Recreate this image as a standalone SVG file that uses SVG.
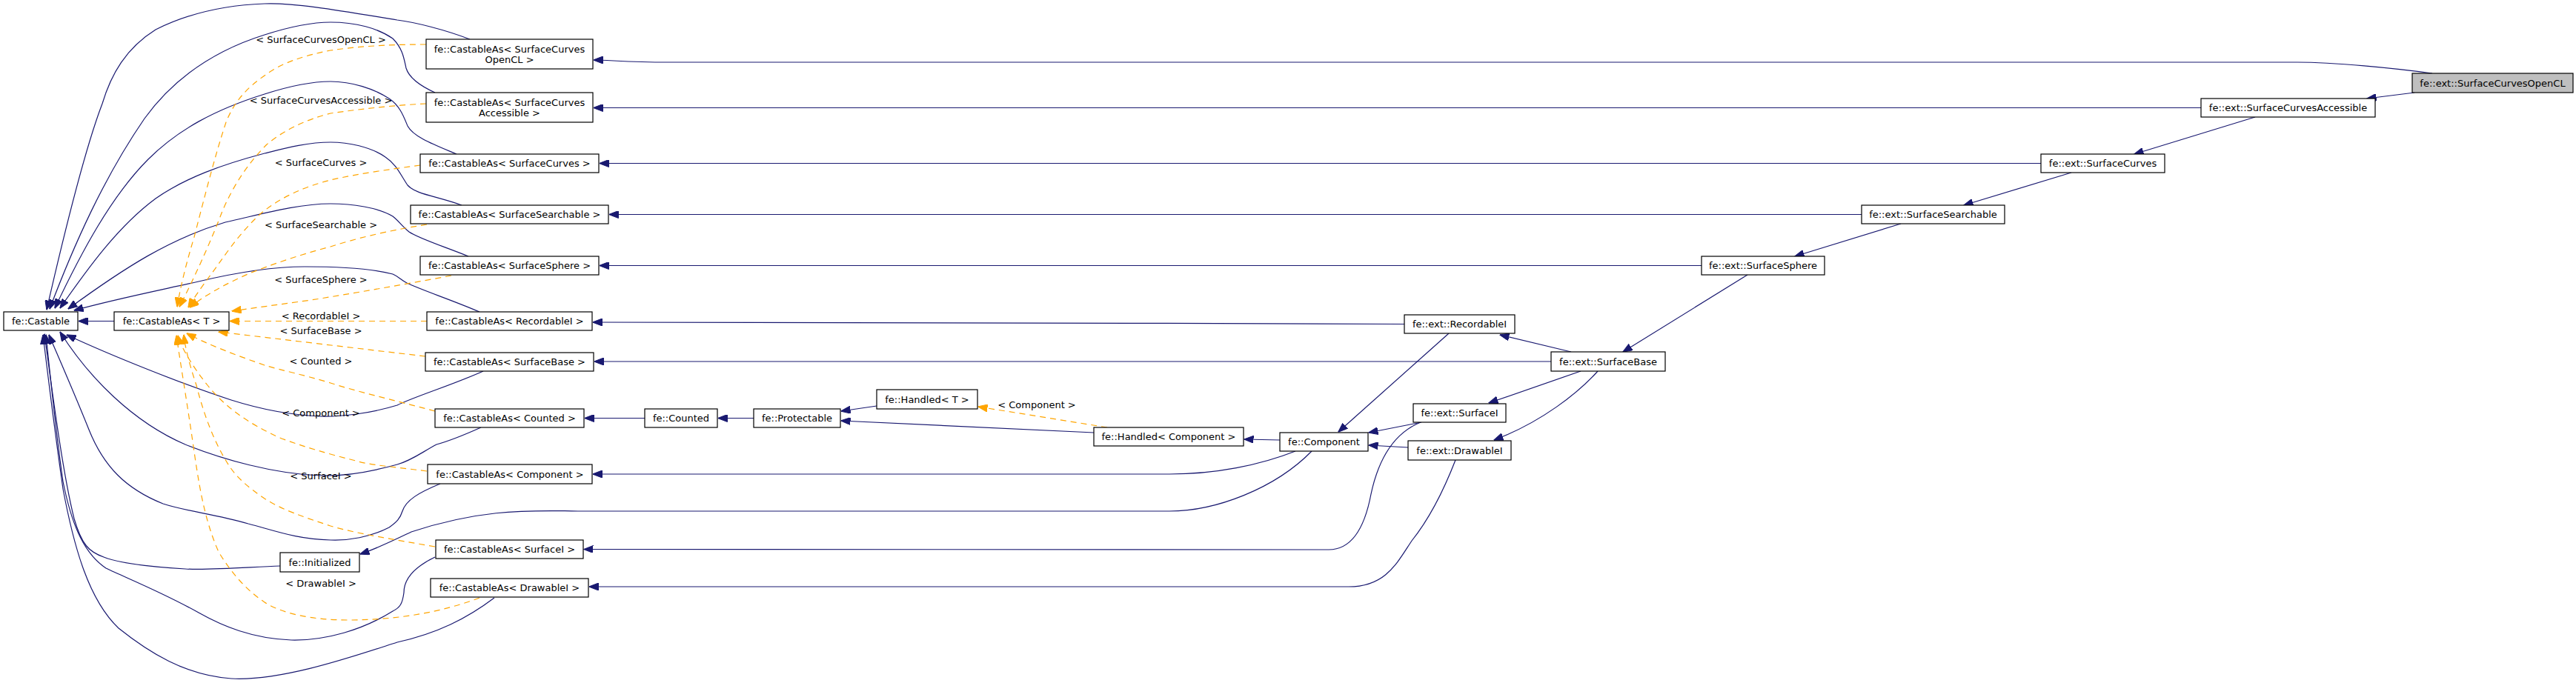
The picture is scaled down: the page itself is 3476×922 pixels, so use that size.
<svg xmlns="http://www.w3.org/2000/svg" width="3476" height="922" viewBox="0 0 3476 922">
<style>
.node rect{fill:#fff;stroke:#000;stroke-width:1.2}
.node.hl rect{fill:#bfbfbf}
text{font-family:"DejaVu Sans","Liberation Sans",sans-serif;font-size:13px;text-anchor:middle;fill:#000}
.e{fill:none;stroke:#191970;stroke-width:1.2;marker-end:url(#ab)}
.t{fill:none;stroke:#ffa500;stroke-width:1.2;stroke-dasharray:8,6;marker-end:url(#ao)}
</style>
<defs>
<marker id="ab" viewBox="0 0 13 10" refX="12.5" refY="5" markerWidth="13" markerHeight="10" markerUnits="userSpaceOnUse" orient="auto"><path d="M0,0 L13,5 L0,10 z" fill="#191970" stroke="#191970" stroke-width="1"/></marker>
<marker id="ao" viewBox="0 0 13 10" refX="12.5" refY="5" markerWidth="13" markerHeight="10" markerUnits="userSpaceOnUse" orient="auto"><path d="M0,0 L13,5 L0,10 z" fill="#ffa500" stroke="#ffa500" stroke-width="1"/></marker>
</defs>
<rect width="3476" height="922" fill="#fff"/>
<g id="edges">
<path class="e" d="M3282,99 C3230,92 3150,84 3100,84 L900,84 C850,84 820,81 801,81"/>
<path class="e" d="M3258,125 L3194,133"/>
<path class="e" d="M2970,145.5 L801,145.5"/>
<path class="e" d="M3043,158 L2880,208"/>
<path class="e" d="M2754,220.5 L809,220.5"/>
<path class="e" d="M2795,233 L2650,277"/>
<path class="e" d="M2512,289.5 L822,289.5"/>
<path class="e" d="M2565,302 L2422,346"/>
<path class="e" d="M2296,358.5 L809,358.5"/>
<path class="e" d="M2358,371 L2190,475"/>
<path class="e" d="M1895,437.5 C1500,436 1000,435 800,435"/>
<path class="e" d="M2120,475 L2024,452"/>
<path class="e" d="M2093,488 L802,488"/>
<path class="e" d="M2133,501 L2009,544"/>
<path class="e" d="M2156,501 C2130,530 2080,570 2016,594"/>
<path class="e" d="M1955,450 L1806,583"/>
<path class="e" d="M1918,570 L1847,584"/>
<path class="e" d="M1900,604 L1847,601"/>
<path class="e" d="M1727,594 L1679,593"/>
<path class="e" d="M1748,609 C1700,628 1640,640 1578,640 L800,640"/>
<path class="e" d="M1770,609 C1720,660 1640,690 1578,690 L780,690 C700,688 640,690 555,718 C530,730 510,740 486,748"/>
<path class="e" d="M1917,570 C1880,585 1860,620 1850,667 C1840,720 1820,742 1793,742 L788,741.5"/>
<path class="e" d="M1964,621 C1945,670 1925,705 1905,730 C1885,760 1870,792 1820,792 L795,792"/>
<path class="e" d="M1476,584 L1135,568"/>
<path class="t" d="M1494,577 L1320,549"/>
<path class="e" d="M1183,548 L1135,555"/>
<path class="e" d="M1017,564.5 L969,564.5"/>
<path class="e" d="M870,564.5 L789,564.5"/>
<path class="e" d="M154,433.5 L106,433.5"/>
<path class="e" d="M634,53 C600,40 560,30 536,27 C480,18 400,3 357,5 C300,7 250,20 210,40 C170,65 150,100 138,140 C115,200 90,300 63,418"/>
<path class="e" d="M587,125 C565,115 552,105 548,92 C545,78 543,65 530,52 C510,38 480,30 446,30 C415,30 385,38 357,47 C290,68 235,105 195,160 C140,240 100,330 67,417"/>
<path class="e" d="M616,208 C585,195 558,185 550,170 C545,158 540,143 525,133 C505,120 475,110 446,110 C415,110 385,118 357,127 C290,148 240,175 200,215 C150,265 110,340 74,416"/>
<path class="e" d="M623,277 C590,265 560,262 550,250 C540,235 535,222 520,212 C500,198 470,192 446,192 C415,192 385,200 357,207 C300,222 250,240 210,268 C160,305 120,360 81,416"/>
<path class="e" d="M632,346 C600,333 565,322 552,313 C542,305 538,298 530,292 C510,280 475,275 446,275 C400,275 350,290 304,300 C230,322 170,360 92,417"/>
<path class="e" d="M647,421 C610,405 570,392 549,382 C540,377 537,373 530,370 C500,362 450,360 411,360 C360,360 310,370 268,380 C200,395 150,405 100,419"/>
<path class="e" d="M652,501 C610,520 560,535 536,547 C500,558 460,563 431,562 C390,560 350,552 312,540 C250,520 150,480 90,452"/>
<path class="e" d="M649,577 C620,590 600,597 589,600 C570,610 555,622 536,627 C500,637 465,643 433,642 C370,640 300,620 250,600 C180,570 120,510 81,448"/>
<path class="e" d="M594,653 C565,665 548,675 543,690 C540,700 535,705 525,712 C500,725 470,730 446,729 C400,728 370,716 335,707 C290,694 250,690 220,680 C170,660 140,630 120,580 C100,530 78,480 66,452"/>
<path class="e" d="M378,764 C330,766 280,770 250,768 C200,765 160,760 140,752 C120,745 110,735 100,700 C85,640 72,540 60,451"/>
<path class="e" d="M587,752 C560,765 545,780 545,800 C543,815 540,820 530,825 C490,850 440,865 393,864 C340,862 300,845 268,827 C220,800 170,780 143,767 C110,745 95,700 85,650 C75,580 68,510 62,452"/>
<path class="e" d="M667,807 C630,835 590,855 536,867 C480,885 380,920 312,916 C250,912 200,880 160,848 C120,810 100,740 85,660 C75,590 65,510 58,452"/>
<path class="t" d="M575,60 C520,60 480,63 446,68 C410,75 380,85 360,100 C330,120 315,140 305,165 C290,210 275,270 262,320 C250,360 243,390 239,414"/>
<path class="t" d="M575,140 C530,142 480,148 446,153 C410,162 380,178 360,195 C335,220 315,250 300,285 C285,325 260,380 242,414"/>
<path class="t" d="M567,223 C530,228 480,235 446,243 C410,252 375,268 350,290 C320,318 300,350 285,370 C270,390 260,405 254,415"/>
<path class="t" d="M576,303 C520,312 480,322 446,333 C400,345 365,358 339,368 C300,385 275,400 256,415"/>
<path class="t" d="M609,372 C540,385 470,397 420,405 C370,412 340,416 313,420"/>
<path class="t" d="M576,433.5 L310,433.5"/>
<path class="t" d="M574,481 C480,470 380,458 295,448"/>
<path class="t" d="M587,555 C530,540 480,528 446,517 C410,506 380,500 357,493 C320,480 280,465 252,450"/>
<path class="t" d="M576,636 C530,630 500,628 480,622 C440,612 410,603 380,592 C330,570 300,545 280,520 C260,495 245,470 240,453"/>
<path class="t" d="M587,738 C530,728 480,720 446,710 C410,698 380,688 357,673 C335,658 320,645 310,630 C290,600 275,560 265,520 C255,490 250,470 248,452"/>
<path class="t" d="M647,807 C600,825 540,837 470,837 C420,837 380,828 357,813 C330,795 310,770 295,745 C275,700 268,650 262,610 C255,560 245,500 238,453"/>
<text x="433" y="57.5">&lt; SurfaceCurvesOpenCL &gt;</text>
<text x="433" y="139.5">&lt; SurfaceCurvesAccessible &gt;</text>
<text x="433" y="223.5">&lt; SurfaceCurves &gt;</text>
<text x="433" y="307.5">&lt; SurfaceSearchable &gt;</text>
<text x="433" y="381.5">&lt; SurfaceSphere &gt;</text>
<text x="433" y="430.5">&lt; RecordableI &gt;</text>
<text x="433" y="450.5">&lt; SurfaceBase &gt;</text>
<text x="433" y="491.5">&lt; Counted &gt;</text>
<text x="433" y="561.5">&lt; Component &gt;</text>
<text x="433" y="646.5">&lt; SurfaceI &gt;</text>
<text x="433" y="791.5">&lt; DrawableI &gt;</text>
<text x="1399" y="551">&lt; Component &gt;</text>
</g>
<g id="n_castable" class="node"><rect x="5" y="421" width="100" height="25"/><text x="55" y="438">fe::Castable</text></g>
<g id="n_castableas_t" class="node"><rect x="154" y="421" width="155" height="25"/><text x="231.5" y="438">fe::CastableAs&lt; T &gt;</text></g>
<g id="n_ca_opencl" class="node"><rect x="575" y="53" width="225" height="40"/><text x="687.5" y="70.5">fe::CastableAs&lt; SurfaceCurves</text><text x="687.5" y="85">OpenCL &gt;</text></g>
<g id="n_ca_accessible" class="node"><rect x="575" y="125" width="225" height="40"/><text x="687.5" y="142.5">fe::CastableAs&lt; SurfaceCurves</text><text x="687.5" y="157">Accessible &gt;</text></g>
<g id="n_ca_surfacecurves" class="node"><rect x="567" y="208" width="241" height="25"/><text x="687.5" y="225">fe::CastableAs&lt; SurfaceCurves &gt;</text></g>
<g id="n_ca_surfacesearchable" class="node"><rect x="554" y="277" width="267" height="25"/><text x="687.5" y="294">fe::CastableAs&lt; SurfaceSearchable &gt;</text></g>
<g id="n_ca_surfacesphere" class="node"><rect x="567" y="346" width="241" height="25"/><text x="687.5" y="363">fe::CastableAs&lt; SurfaceSphere &gt;</text></g>
<g id="n_ca_recordablei" class="node"><rect x="576" y="421" width="223" height="25"/><text x="687.5" y="438">fe::CastableAs&lt; RecordableI &gt;</text></g>
<g id="n_ca_surfacebase" class="node"><rect x="574" y="476" width="227" height="25"/><text x="687.5" y="493">fe::CastableAs&lt; SurfaceBase &gt;</text></g>
<g id="n_ca_counted" class="node"><rect x="587" y="552" width="201" height="25"/><text x="687.5" y="569">fe::CastableAs&lt; Counted &gt;</text></g>
<g id="n_counted" class="node"><rect x="870" y="552" width="98" height="25"/><text x="919" y="569">fe::Counted</text></g>
<g id="n_protectable" class="node"><rect x="1017" y="552" width="117" height="25"/><text x="1075.5" y="569">fe::Protectable</text></g>
<g id="n_handled_t" class="node"><rect x="1183" y="526" width="136" height="26"/><text x="1251" y="543.5">fe::Handled&lt; T &gt;</text></g>
<g id="n_handled_component" class="node"><rect x="1476" y="577" width="202" height="25"/><text x="1577" y="594">fe::Handled&lt; Component &gt;</text></g>
<g id="n_component" class="node"><rect x="1727" y="584" width="119" height="25"/><text x="1786.5" y="601">fe::Component</text></g>
<g id="n_ca_component" class="node"><rect x="577" y="627" width="222" height="26"/><text x="688" y="644.5">fe::CastableAs&lt; Component &gt;</text></g>
<g id="n_ca_surfacei" class="node"><rect x="588" y="729" width="199" height="25"/><text x="687.5" y="746">fe::CastableAs&lt; SurfaceI &gt;</text></g>
<g id="n_ca_drawablei" class="node"><rect x="581" y="781" width="213" height="25"/><text x="687.5" y="798">fe::CastableAs&lt; DrawableI &gt;</text></g>
<g id="n_initialized" class="node"><rect x="378" y="746" width="107" height="26"/><text x="431.5" y="763.5">fe::Initialized</text></g>
<g id="n_ext_recordablei" class="node"><rect x="1895" y="425" width="149" height="25"/><text x="1969.5" y="442">fe::ext::RecordableI</text></g>
<g id="n_ext_surfacebase" class="node"><rect x="2093" y="475" width="154" height="26"/><text x="2170" y="492.5">fe::ext::SurfaceBase</text></g>
<g id="n_ext_surfacei" class="node"><rect x="1907" y="545" width="125" height="25"/><text x="1969.5" y="562">fe::ext::SurfaceI</text></g>
<g id="n_ext_drawablei" class="node"><rect x="1900" y="595" width="139" height="26"/><text x="1969.5" y="612.5">fe::ext::DrawableI</text></g>
<g id="n_ext_surfacesphere" class="node"><rect x="2296" y="346" width="166" height="25"/><text x="2379" y="363">fe::ext::SurfaceSphere</text></g>
<g id="n_ext_surfacesearchable" class="node"><rect x="2512" y="277" width="193" height="25"/><text x="2608.5" y="294">fe::ext::SurfaceSearchable</text></g>
<g id="n_ext_surfacecurves" class="node"><rect x="2754" y="208" width="167" height="25"/><text x="2837.5" y="225">fe::ext::SurfaceCurves</text></g>
<g id="n_ext_surfacecurvesaccessible" class="node"><rect x="2970" y="133" width="235" height="25"/><text x="3087.5" y="150">fe::ext::SurfaceCurvesAccessible</text></g>
<g id="n_ext_surfacecurvesopencl" class="node hl"><rect x="3255" y="99" width="217" height="26"/><text x="3363.5" y="116.5">fe::ext::SurfaceCurvesOpenCL</text></g>
</svg>
